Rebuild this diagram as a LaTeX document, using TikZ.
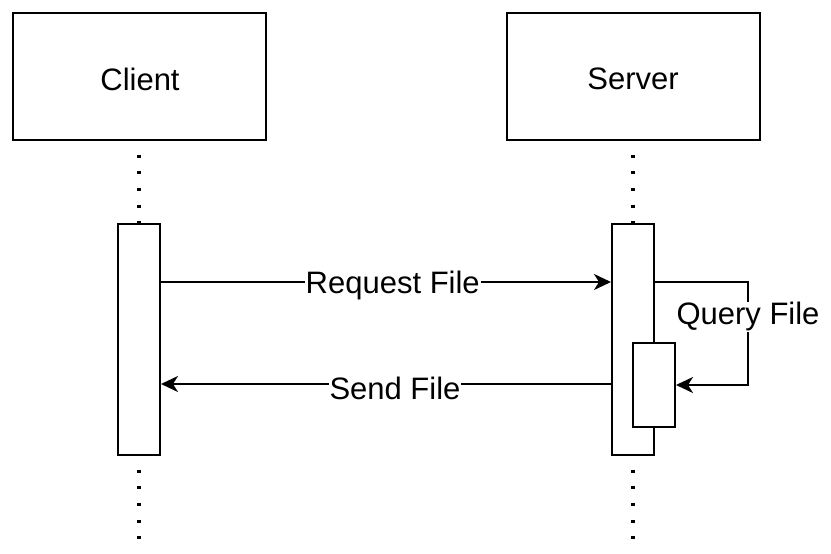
\documentclass[tikz,border=0pt]{standalone}
\usepackage{fontspec}
\setmainfont{Liberation Sans}
\usetikzlibrary{arrows.meta}
\begin{document}
\begin{tikzpicture}[x=1pt,y=-1pt,line width=2pt,
  txt/.style={font=\fontsize{31}{36}\selectfont},
  actor/.style={draw,rectangle,minimum width=253pt,minimum height=127pt,inner sep=0pt,txt},
  act/.style={draw,fill=white,rectangle,minimum width=42pt,inner sep=0pt},
  msg/.style={-{Stealth[length=17pt,width=16pt,inset=5pt]}},
  lbl/.style={fill=white,inner sep=1pt,txt},
  life/.style={line width=3.5pt,line cap=butt,dash pattern=on 3pt off 13.67pt}]
\useasboundingbox (0,0) rectangle (831,554);
\node[actor] (client) at (139.5,76.5) {};
\node[actor] (server) at (633,76.5) {};
\node[txt] (clientlbl) at (140,79) {Client};
\node[txt] (serverlbl) at (633,79) {Server};
\node[act,minimum height=231pt] (cact) at (139,339.5) {};
\node[act,minimum height=231pt] (sact) at (633,339.5) {};
\coordinate (cend) at (139,542);
\coordinate (send) at (633,542);
\draw[life,shorten <=13.5pt] (client.south -| cact) -- (cact.north);
\draw[life,shorten <=13.5pt] (server.south -| sact) -- (sact.north);
\draw[life,shorten <=13.5pt] (cact.south) -- (cend);
\draw[life,shorten <=13.5pt] (sact.south) -- (send);
\node[act,minimum height=84pt] (qact) at (654,385) {};
\coordinate (ry) at (0,282);
\coordinate (sy) at (0,384);
\coordinate (qx) at (748,0);
\draw[msg] (cact.east |- ry) -- node[lbl,pos=0.515,yshift=-3.5pt]{Request File} (sact.west |- ry);
\draw[msg] (sact.west |- sy) -- node[lbl,pos=0.48,yshift=-4pt]{Send File} (cact.east |- sy);
\draw[msg] (sact.east |- ry) -- (qx |- ry) -- node[lbl,pos=0.32,yshift=-2pt]{Query File} (qx |- qact.east) -- (qact.east);
\end{tikzpicture}
\end{document}
